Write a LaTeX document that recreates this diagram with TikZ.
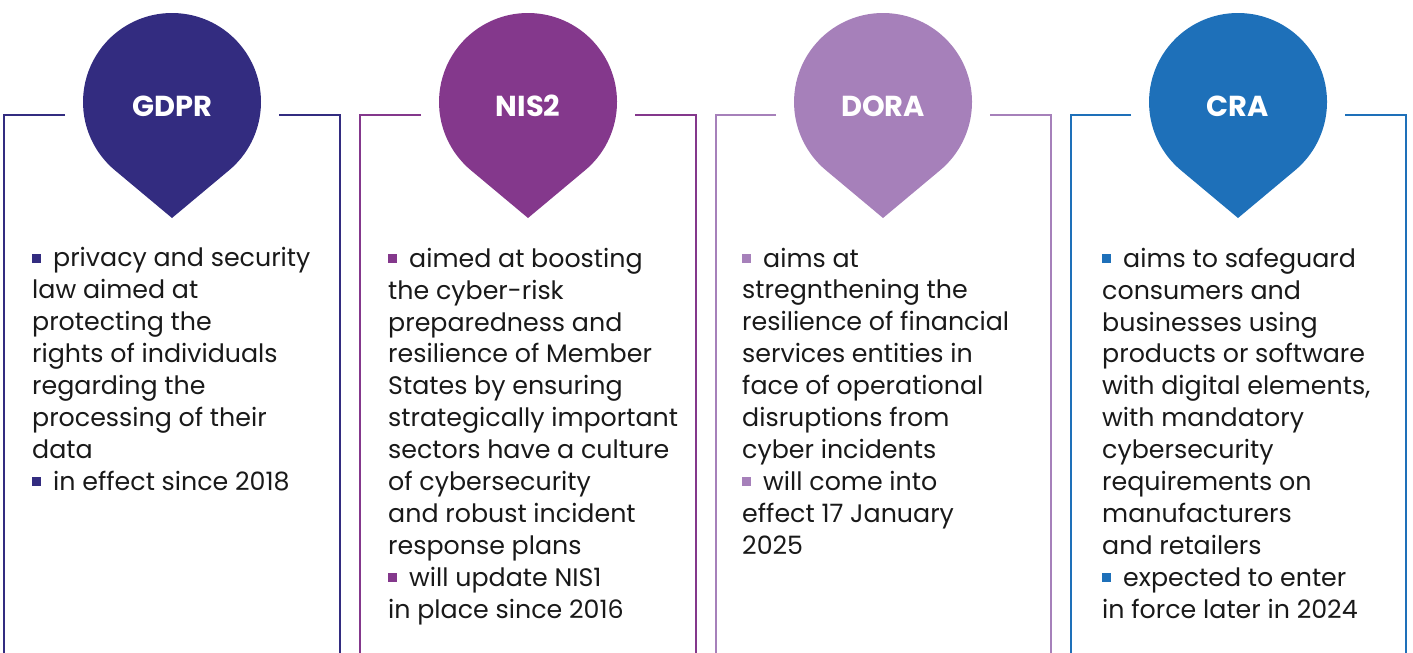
\documentclass[tikz,border=0pt]{standalone}
\usepackage{fontspec}
\setmainfont{Poppins}
\usetikzlibrary{calc}
\definecolor{gdprcol}{RGB}{51,44,128}
\definecolor{niscol}{RGB}{132,56,140}
\definecolor{doracol}{RGB}{166,128,186}
\definecolor{cracol}{RGB}{30,112,185}
\newcommand{\sqbullet}[1]{\textcolor{#1}{\rule[4bp]{9bp}{9bp}}\hspace{12bp}}
\tikzset{
  bracket/.style={line width=2.2bp},
  pinlabel/.style={text=white,font=\fontsize{29}{32}\selectfont\bfseries},
  bodytext/.style={anchor=base west,align=left,inner sep=0pt,text=black!90,
    font=\fontsize{25.4}{32}\selectfont}
}
\begin{document}
\begin{tikzpicture}[x=1bp,y=-1bp]
\useasboundingbox (0,0) rectangle (1413,653);
 \begin{scope}
\fill[gdprcol] (172,218) -- ($(172,102)+(50.1:89)$) arc[start angle=50.1,end angle=-229.9,radius=89] -- cycle;
\node[pinlabel] (gdpr) at (172,106) {GDPR};
\draw[bracket,gdprcol] (65,115) -- (4,115) -- (4,653);
\draw[bracket,gdprcol] (279,115) -- (340,115) -- (340,653);
% base anchor sits on the last line
\node[bodytext] (gdprtext) at (32,490) {\sqbullet{gdprcol}privacy and security\\
law aimed at\\ protecting the\\ rights of individuals\\ regarding the\\
processing of their\\ data\\ \sqbullet{gdprcol}in effect since 2018};
 \end{scope}
 \begin{scope}[xshift=356bp]
\fill[niscol] (172,218) -- ($(172,102)+(50.1:89)$) arc[start angle=50.1,end angle=-229.9,radius=89] -- cycle;
\node[pinlabel] (nis) at (172,106) {NIS2};
\draw[bracket,niscol] (65,115) -- (4,115) -- (4,653);
\draw[bracket,niscol] (279,115) -- (340,115) -- (340,653);
\node[bodytext] (nistext) at (32,618) {\sqbullet{niscol}aimed at boosting\\
the cyber-risk\\ preparedness and\\ resilience of Member\\ States by ensuring\\
strategically important\\ sectors have a culture\\ of cybersecurity\\
and robust incident\\ response plans\\ \sqbullet{niscol}will update NIS1\\
in place since 2016};
 \end{scope}
 \begin{scope}[xshift=711bp]
\fill[doracol] (172,218) -- ($(172,102)+(50.1:89)$) arc[start angle=50.1,end angle=-229.9,radius=89] -- cycle;
\node[pinlabel] (dora) at (172,106) {DORA};
\draw[bracket,doracol] (65,115) -- (5,115) -- (5,653);
\draw[bracket,doracol] (279,115) -- (340,115) -- (340,653);
\node[bodytext] (doratext) at (31,554) {\sqbullet{doracol}aims at\\
stregnthening the\\ resilience of financial\\ services entities in\\
face of operational\\ disruptions from\\ cyber incidents\\
\sqbullet{doracol}will come into\\ effect 17 January\\ 2025};
 \end{scope}
 \begin{scope}[xshift=1066bp]
\fill[cracol] (172,218) -- ($(172,102)+(50.1:89)$) arc[start angle=50.1,end angle=-229.9,radius=89] -- cycle;
\node[pinlabel] (cra) at (172,106) {CRA};
\draw[bracket,cracol] (65,115) -- (5,115) -- (5,653);
\draw[bracket,cracol] (279,115) -- (340,115) -- (340,653);
\node[bodytext] (cratext) at (36,618) {\sqbullet{cracol}aims to safeguard\\
consumers and\\ businesses using\\ products or software\\ with digital elements,\\
with mandatory\\ cybersecurity\\ requirements on\\ manufacturers\\
and retailers\\ \sqbullet{cracol}expected to enter\\ in force later in 2024};
 \end{scope}
\end{tikzpicture}
\end{document}
